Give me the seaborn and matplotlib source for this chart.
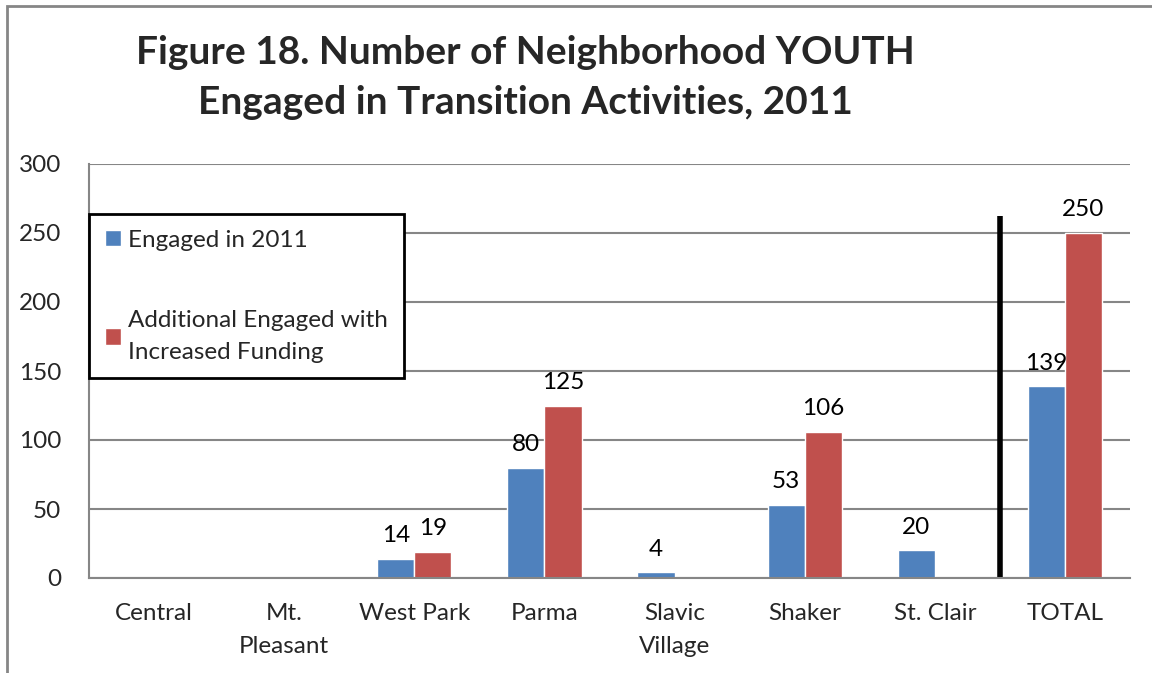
import numpy as np
import pandas as pd
import seaborn as sns
import matplotlib.pyplot as plt
from matplotlib.patches import Rectangle

categories = ["Central", "Mt.\nPleasant", "West Park", "Parma", "Slavic\nVillage",
              "Shaker", "St. Clair", "TOTAL"]
engaged_2011 = [np.nan, np.nan, 14, 80, 4, 53, 20, 139]
additional = [np.nan, np.nan, 19, 125, np.nan, 106, np.nan, 250]
series_names = ["Engaged in 2011", "Additional Engaged with\nIncreased Funding"]
colors = ["#4F81BD", "#C0504D"]
y_ticks = [0, 50, 100, 150, 200, 250, 300]

df = pd.DataFrame({
    "area": categories * 2,
    "series": [series_names[0]] * len(categories) + [series_names[1]] * len(categories),
    "value": engaged_2011 + additional,
})

sns.set_style("white")
plt.rcParams['font.family'] = ['Lato', 'DejaVu Sans']
grid_col = "#868686"
fs = 17.5

fig = plt.figure(figsize=(11.52, 6.73), dpi=100)
ax = fig.add_axes([89 / 1152, 95 / 673, 1041 / 1152, 414 / 673])

sns.barplot(data=df, x="area", y="value", hue="series", order=categories,
            hue_order=series_names, palette=colors, width=0.57, saturation=1,
            ax=ax, legend=True)

for cont in ax.containers:
    labels = ["" if np.isnan(v) else f"{v:.0f}" for v in cont.datavalues]
    ax.bar_label(cont, labels=labels, padding=9, fontsize=fs, color="black")

ax.set_ylim(0, 300)
ax.set_xlim(-0.5, len(categories) - 0.5)
ax.set_yticks(y_ticks)
ax.set_xticks(np.arange(len(categories)))
ax.set_xticklabels(categories, linespacing=1.7)
ax.set_xticks(np.arange(len(categories) + 1) - 0.5, minor=True)
ax.tick_params(axis="x", which="major", length=0, pad=18, labelsize=fs)
ax.tick_params(axis="x", which="minor", length=8, width=1.5, color=grid_col)
ax.tick_params(axis="y", length=8, width=1.5, color=grid_col, pad=12, labelsize=fs)
ax.yaxis.grid(True, color=grid_col, linewidth=1.5)
ax.set_axisbelow(True)
ax.set_xlabel("")
ax.set_ylabel("")
for s in ["top", "right"]:
    ax.spines[s].set_visible(False)
for s in ["left", "bottom"]:
    ax.spines[s].set_color(grid_col)
    ax.spines[s].set_linewidth(1.5)

# separator before TOTAL
ax.plot([6.5, 6.5], [0, 262], color="black", linewidth=4, solid_capstyle="butt")

leg = ax.legend(loc="upper left", bbox_to_anchor=(0.0, 0.879), fontsize=fs,
                frameon=True, fancybox=False, labelspacing=2.45, handlelength=0.65,
                handleheight=0.65, handletextpad=0.3, borderpad=0.65,
                borderaxespad=0.0)
for t in leg.get_texts():
    t.set_linespacing(1.6)
leg.get_frame().set_edgecolor("black")
leg.get_frame().set_linewidth(2)
leg.get_frame().set_alpha(1)

fig.text(525 / 1152, 1 - 52 / 673, "Figure 18. Number of Neighborhood YOUTH",
         ha="center", va="center", fontsize=28, fontweight="bold")
fig.text(525 / 1152, 1 - 103 / 673, "Engaged in Transition Activities, 2011",
         ha="center", va="center", fontsize=28, fontweight="bold")

fig.patches.append(Rectangle((7 / 1152, -0.1), 1.2, 1 - 6 / 673 + 0.1,
                             transform=fig.transFigure, fill=False,
                             edgecolor=grid_col, linewidth=2))

fig.savefig("out.png", dpi=100)
